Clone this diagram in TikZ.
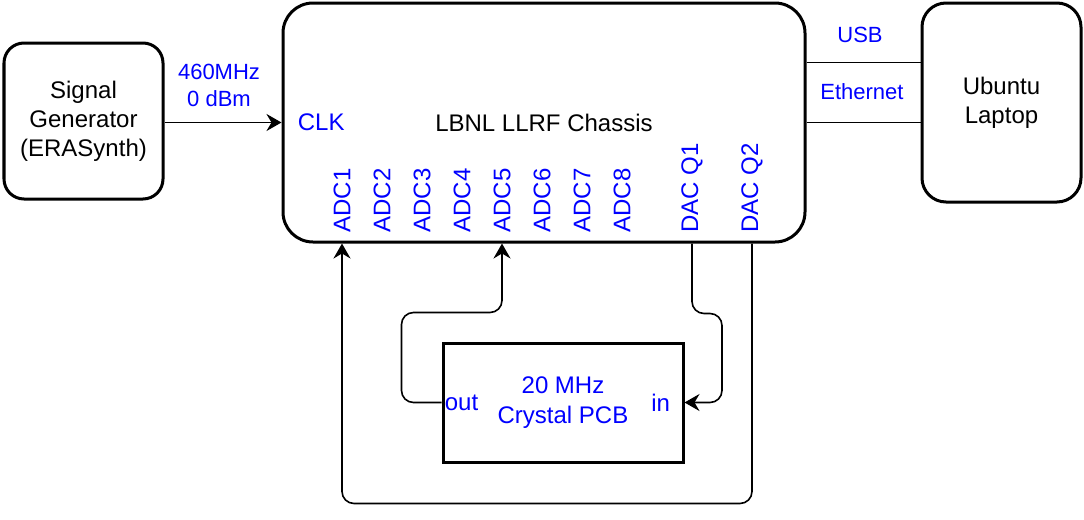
\documentclass[tikz,border=0pt]{standalone}
\usepackage{fontspec}
\setmainfont{Liberation Sans}
\usetikzlibrary{arrows.meta,positioning,calc}
\definecolor{pblue}{RGB}{0,0,255}

\begin{document}
\begin{tikzpicture}[x=0.5pt,y=-0.5pt,>={Stealth[length=7.5pt,width=8.5pt,inset=2.5pt]},
  box/.style={draw,line width=1.5pt,rounded corners=#1,align=center,
    font=\fontsize{12}{14.5}\selectfont},
  box/.default=10pt,
  chip/.style={draw,line width=1.5pt,align=center,text=pblue,
    font=\fontsize{12}{15}\selectfont},
  tag/.style={text=pblue,inner sep=0pt,font=\fontsize{12}{14.5}\selectfont},
  small/.style={text=pblue,inner sep=0pt,align=center,font=\fontsize{11}{13.5}\selectfont},
  port/.style={tag,rotate=90,anchor=west},
  wire/.style={line width=0.7pt},
  link/.style={line width=0.8pt,rounded corners=6pt}]
  \useasboundingbox (0,0) rectangle (1084,520);
  % instruments
  \node[box,minimum width=79.5pt,minimum height=78pt] (siggen) at (83.5,121) {Signal\\Generator\\(ERASynth)};
  \node[box=15pt,minimum width=261pt,minimum height=119.5pt] (chassis) at (544,122.5) {LBNL LLRF Chassis};
  \node[box=12pt,minimum width=79.5pt,minimum height=99.5pt] (laptop) at (1001.5,102.5) {Ubuntu\\Laptop};
  \node[chip,minimum width=120pt,minimum height=59.5pt] (pcb) at (563,402.5) {20 MHz\\Crystal PCB};
  % chassis ports
  \node[tag,right=8pt of chassis.west] (clk) {CLK};
  \foreach \i in {1,...,8}
    \node[port] (adc\i) at ({302+40*\i},233) {ADC\i};
  \node[port] (dq1) at (692,233) {DAC Q1};
  \node[port] (dq2) at (752,233) {DAC Q2};
  \node[tag,right=1.5pt of pcb.west] (out) {out};
  \node[tag,left=7pt of pcb.east] (in) {in};
  % clock input
  \draw[link,->] (siggen.east |- chassis.west) -- (chassis.west);
  \node[small] (freq) at (219,85) {460MHz\\0 dBm};
  % host links
  \coordinate (usbport) at ($(chassis.north east)+(0,61)$);
  \draw[wire] (usbport) -- (usbport -| laptop.west);
  \draw[wire] (chassis.east) -- (chassis.east -| laptop.west);
  \node[small] (usb) at (860,35) {USB};
  \node[small] (eth) at (862,92) {Ethernet};
  % loopback through crystal
  \draw[link,->] (pcb.west) -| ++(-40,-90) -| (adc5 |- chassis.south);
  \draw[link,->] (dq1 |- chassis.south) |- ++(30,70) |- (pcb.east);
  \draw[link,->] (dq2 |- chassis.south) |- ++(-200,260) -| (adc1 |- chassis.south);
\end{tikzpicture}
\end{document}
